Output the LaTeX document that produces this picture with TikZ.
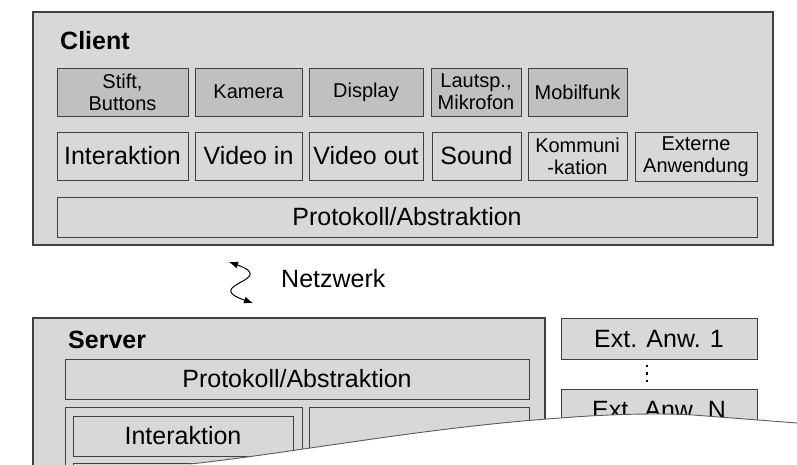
\documentclass[tikz,border=0pt]{standalone}
\usepackage{fontspec}
\setmainfont{Liberation Sans}
\usetikzlibrary{arrows.meta}

\definecolor{panelfill}{RGB}{216,216,216}
\definecolor{devfill}{RGB}{192,192,192}
\definecolor{edge}{RGB}{64,64,64}
\definecolor{tearline}{RGB}{90,90,90}

\tikzset{
  panel/.style={draw=edge, line width=1.2pt, fill=panelfill},
  devbox/.style={draw=edge, line width=1pt, fill=devfill, inner sep=0pt,
                 align=center, font=\fontsize{20}{22}\selectfont},
  modbox/.style={draw=edge, line width=1pt, fill=panelfill, inner sep=0pt,
                 align=center, font=\fontsize{25}{28}\selectfont},
  smallmod/.style={modbox, font=\fontsize{20}{22}\selectfont},
  heading/.style={inner sep=0pt, anchor=base west,
                  font=\fontsize{25}{28}\selectfont\bfseries},
  netarrow/.style={draw=black, line width=1pt,
                   {Latex[length=9pt,width=7pt]}-{Latex[length=9pt,width=7pt]}},
}

% box from its top-left (x1,y1) to its bottom-right (x2,y2), in pixels
\newcommand\pbox[7]{%
  \node[#6, anchor=north west, outer sep=0pt,
        minimum width={#4-#2}, minimum height={#5-#3}] (#1) at (#2,#3) {#7};}

\begin{document}
\begin{tikzpicture}[x=1pt, y=-1pt]
\useasboundingbox (0,0) rectangle (797,464);
\clip (0,0) rectangle (797,464);

% ---------------- client ----------------
\pbox{client}{33}{12}{773}{245}{panel}{}
\node[heading] (clientlbl) at (60,49) {Client};

% devices
\pbox{stift}{57}{68}{188}{116}{devbox}{Stift,\\Buttons}
\pbox{kamera}{195}{68}{302}{116}{devbox}{Kamera}
\pbox{display}{309}{68}{423}{116}{devbox}{Display}
\pbox{lautsp}{431}{68}{521}{116}{devbox}{Lautsp.,\\Mikrofon}
\pbox{mobil}{528}{68}{627}{116}{devbox}{Mobilfunk}

% client modules
\pbox{cinter}{57}{132}{188}{180}{modbox}{Interaktion}
\pbox{vin}{195}{132}{302}{180}{modbox}{Video in}
\pbox{vout}{309}{132}{423}{180}{modbox}{Video out}
\pbox{sound}{432}{132}{521}{180}{modbox}{Sound}
\pbox{komm}{528}{132}{627}{180}{smallmod}{Kommuni\\-kation}
\pbox{extern}{635}{132}{757}{181}{smallmod}{Externe\\Anwendung}

\pbox{cproto}{57}{197}{757}{237}{modbox}{Protokoll/Abstraktion}

% ---------------- network ----------------
\coordinate (netA) at (229,262);
\coordinate (netB) at (253,303);
\draw[netarrow] (netA) .. controls (280,280) and (200,285) .. (netB);
\node[inner sep=0pt, anchor=base west, font=\fontsize{25}{28}\selectfont]
  (netlbl) at (281,287) {Netzwerk};

% ---------------- server ----------------
\pbox{server}{33}{318}{545}{520}{panel}{}
\node[heading] (serverlbl) at (68,348) {Server};
\pbox{sproto}{65}{359}{529}{399}{modbox}{Protokoll/Abstraktion}
\pbox{sleft}{65}{407}{302}{520}{modbox}{}
\pbox{sinter}{73}{416}{293}{456}{modbox}{Interaktion}
\pbox{snext}{73}{463}{293}{520}{modbox}{}
\pbox{sright}{309}{407}{529}{520}{modbox}{}

% external applications
\pbox{ext1}{561}{318}{757}{359}{modbox}{Ext. Anw. 1}
\foreach \yy in {366,373.5,381}
  \fill (646.2,\yy-1.1) rectangle (648.4,\yy+1.1);
\pbox{extn}{561}{389}{757}{430}{modbox}{Ext. Anw. N}

% ---------------- torn lower edge ----------------
\fill[white] (190,464) .. controls (300,452) and (420,428) .. (560,418)
  .. controls (610,414) and (660,413) .. (693,415) -- (797,423)
  -- (797,470) -- (190,470) -- cycle;
\draw[tearline, line width=0.9pt] (190,464) .. controls (300,452) and (420,428) .. (560,418)
  .. controls (610,414) and (660,413) .. (693,415) -- (797,423);
\end{tikzpicture}
\end{document}
